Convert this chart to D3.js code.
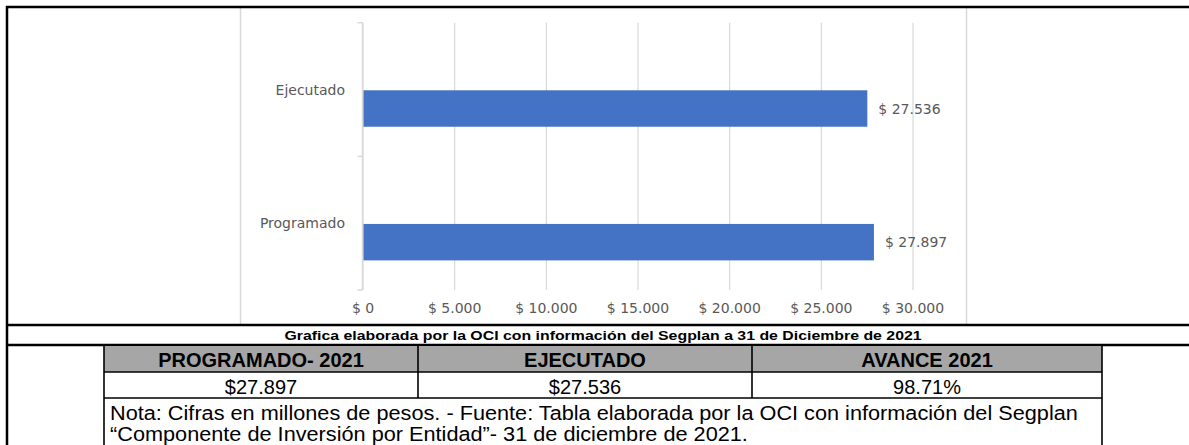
<!DOCTYPE html>
<html lang="es">
<head>
<meta charset="utf-8">
<title>Programado vs Ejecutado 2021</title>
<script src="https://cdn.jsdelivr.net/npm/d3@7"></script>
<style>
  html, body { margin: 0; padding: 0; background: #ffffff; }
  svg { display: block; }
</style>
</head>
<body>
<svg id="hoja" width="1189" height="445"></svg>
<script>
// Inversión 2021 (millones de pesos)
const categorias = ["Ejecutado", "Programado"];
const valores = [27536, 27897];
const ejeTicks = [0, 5000, 10000, 15000, 20000, 25000, 30000];

// Tabla resumen bajo la gráfica
const encabezados = ["PROGRAMADO- 2021", "EJECUTADO", "AVANCE 2021"];
const filaValores = ["$27.897", "$27.536", "98.71%"];
const leyenda = "Grafica elaborada por la OCI con información del Segplan a 31 de Diciembre de 2021";
const nota = [
  "Nota: Cifras en millones de pesos. - Fuente: Tabla elaborada por la OCI con información del Segplan",
  "\u201CComponente de Inversión por Entidad\u201D- 31 de diciembre de 2021."
];

const svg = d3.select("#hoja");
const W = 1189, H = 445;

const es = d3.formatLocale({ decimal: ",", thousands: ".", grouping: [3], currency: ["$ ", ""] });
const fmt = es.format("$,.0f");

const gris = "#d9d9d9", texto = "#595959", azul = "#4472c4";
const fuenteGrafica = "'DejaVu Sans', Verdana, sans-serif";
const fuenteTabla = "'Liberation Sans', Arial, sans-serif";

// ---- Gráfica de barras ----
const chart = svg.append("g");

// marco gris de la imagen de la gráfica
[240.5, 966.5].forEach(xx => {
  chart.append("line").attr("x1", xx).attr("x2", xx).attr("y1", 8).attr("y2", 324)
    .attr("stroke", gris).attr("stroke-width", 1.5);
});

const x = d3.scaleLinear().domain([0, 30000]).range([362.5, 912.5]);
const y = d3.scaleBand().domain(categorias).range([22.7, 290]).paddingInner(0).paddingOuter(0);
// cada categoría tiene dos posiciones; la serie de valores ocupa la segunda
const ranura = d3.scaleBand().domain(["libre", "valor"]).range([0, y.bandwidth()])
  .paddingInner(0.04).paddingOuter(0.78);

// líneas de división verticales + etiquetas del eje X
const ejeX = d3.axisBottom(x)
  .tickValues(ejeTicks)
  .tickSize(-(290 - 22.7))
  .tickPadding(13)
  .tickFormat(fmt);

const gx = chart.append("g").attr("transform", "translate(0,290)").call(ejeX);
gx.select(".domain").remove();
gx.selectAll(".tick line").attr("stroke", gris).attr("stroke-width", 1.2);
gx.selectAll(".tick text")
  .attr("fill", texto)
  .style("font-family", fuenteGrafica)
  .style("font-size", "14px");

// eje Y con marcas en los límites de cada categoría
const ejeY = chart.append("g");
ejeY.append("line")
  .attr("x1", x(0)).attr("x2", x(0))
  .attr("y1", y.range()[0]).attr("y2", y.range()[1])
  .attr("stroke", gris).attr("stroke-width", 1.5);
const limites = categorias.map(c => y(c)).concat([y.range()[1]]);
ejeY.selectAll("line.marca").data(limites).join("line")
  .attr("class", "marca")
  .attr("x1", x(0) - 5).attr("x2", x(0))
  .attr("y1", d => d).attr("y2", d => d)
  .attr("stroke", gris).attr("stroke-width", 1.5);

ejeY.selectAll("text").data(categorias).join("text")
  .attr("x", 345)
  .attr("y", d => y(d) + y.bandwidth() / 2)
  .attr("dy", "0.36em")
  .attr("text-anchor", "end")
  .attr("fill", texto)
  .style("font-family", fuenteGrafica)
  .style("font-size", "14px")
  .text(d => d);

// barras
const datos = categorias.map((c, i) => ({ c, v: valores[i] }));
chart.selectAll("rect.barra").data(datos).join("rect")
  .attr("class", "barra")
  .attr("x", x(0) + 1)
  .attr("y", d => y(d.c) + ranura("valor"))
  .attr("width", d => x(d.v) - x(0) - 1)
  .attr("height", ranura.bandwidth())
  .attr("fill", azul);

// etiquetas de valor
chart.selectAll("text.valor").data(datos).join("text")
  .attr("class", "valor")
  .attr("x", d => x(d.v) + 11)
  .attr("y", d => y(d.c) + ranura("valor") + ranura.bandwidth() / 2)
  .attr("dy", "0.36em")
  .attr("fill", texto)
  .style("font-family", fuenteGrafica)
  .style("font-size", "14px")
  .text(d => fmt(d.v));

// ---- Marco y tabla ----
const marco = svg.append("g").attr("stroke", "#000");
marco.append("line").attr("x1", 6).attr("x2", W).attr("y1", 7).attr("y2", 7).attr("stroke-width", 2.5);
marco.append("line").attr("x1", 7).attr("x2", 7).attr("y1", 6).attr("y2", H).attr("stroke-width", 2.5);
marco.append("line").attr("x1", 6).attr("x2", W).attr("y1", 325).attr("y2", 325).attr("stroke-width", 2.5);
marco.append("line").attr("x1", 6).attr("x2", W).attr("y1", 345).attr("y2", 345).attr("stroke-width", 2.5);

// leyenda de la gráfica
svg.append("text")
  .attr("transform", "translate(603,340) scale(1.22,1)")
  .attr("text-anchor", "middle")
  .attr("fill", "#000")
  .style("font-family", fuenteTabla)
  .style("font-size", "13px")
  .style("font-weight", "bold")
  .text(leyenda);

// columnas de la tabla
const cols = d3.scaleOrdinal().domain(encabezados).range([[104, 418], [418, 752], [752, 1102]]);
const tabla = svg.append("g");

tabla.append("rect").attr("x", 104).attr("y", 346).attr("width", 1102 - 104).attr("height", 372 - 346)
  .attr("fill", "#a6a6a6");

tabla.selectAll("text.enc").data(encabezados).join("text")
  .attr("class", "enc")
  .attr("x", d => (cols(d)[0] + cols(d)[1]) / 2)
  .attr("y", 366.5)
  .attr("text-anchor", "middle")
  .attr("fill", "#000")
  .style("font-family", fuenteTabla)
  .style("font-size", "20px")
  .style("font-weight", "bold")
  .text(d => d);

tabla.selectAll("text.val").data(filaValores).join("text")
  .attr("class", "val")
  .attr("x", (d, i) => (cols(encabezados[i])[0] + cols(encabezados[i])[1]) / 2)
  .attr("y", 393.5)
  .attr("text-anchor", "middle")
  .attr("fill", "#000")
  .style("font-family", fuenteTabla)
  .style("font-size", "20px")
  .text(d => d);

// nota al pie, algo ensanchada horizontalmente
tabla.selectAll("text.nota").data(nota).join("text")
  .attr("class", "nota")
  .attr("transform", (d, i) => `translate(110,${419.5 + i * 21}) scale(1.085,1)`)
  .attr("fill", "#000")
  .style("font-family", fuenteTabla)
  .style("font-size", "20px")
  .text(d => d);

const bordes = tabla.append("g").attr("stroke", "#000").attr("stroke-width", 1.6);
[372, 398].forEach(yy => bordes.append("line").attr("x1", 104).attr("x2", 1102).attr("y1", yy).attr("y2", yy));
[104, 1102].forEach(xx => bordes.append("line").attr("x1", xx).attr("x2", xx).attr("y1", 345).attr("y2", H));
[418, 752].forEach(xx => bordes.append("line").attr("x1", xx).attr("x2", xx).attr("y1", 345).attr("y2", 398));
</script>
</body>
</html>
